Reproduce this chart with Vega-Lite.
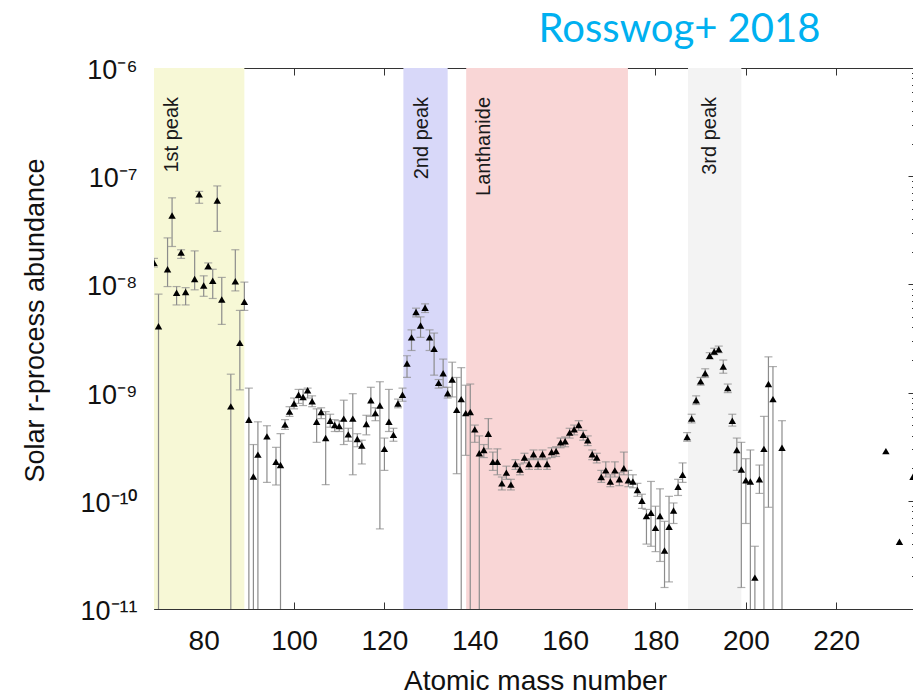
{
  "$schema": "https://vega.github.io/schema/vega-lite/v6.json",
  "width": 761,
  "height": 541,
  "autosize": {"type": "none"},
  "padding": {"left": 154, "top": 68, "right": 0, "bottom": 100},
  "config": {
    "view": {"stroke": "#333333", "strokeWidth": 1},
    "font": "Liberation Sans"
  },
  "datasets": {
    "bands": [
      {"region": "1st peak", "start": 69, "end": 89},
      {"region": "2nd peak", "start": 124.2, "end": 134},
      {"region": "Lanthanide", "start": 138.1, "end": 173.9},
      {"region": "3rd peak", "start": 187.2, "end": 199}
    ],
    "bandLabels": [
      {"label": "1st peak", "A": 74.3, "y": 5.4e-7},
      {"label": "2nd peak", "A": 129.6, "y": 5.4e-7},
      {"label": "Lanthanide", "A": 143.4, "y": 5.4e-7},
      {"label": "3rd peak", "A": 193.5, "y": 5.4e-7}
    ],
    "abund": [
      {"A": 69, "v": 1.58e-8, "lo": 1.45e-8, "hi": 1.74e-8},
      {"A": 70, "v": 4.11e-9, "lo": 1e-12, "hi": 8.13e-9},
      {"A": 72, "v": 1.38e-8, "lo": 9.55e-9, "hi": 2.69e-8},
      {"A": 73, "v": 4.33e-8, "lo": 2.24e-8, "hi": 6.31e-8},
      {"A": 74, "v": 8.38e-9, "lo": 6.46e-9, "hi": 9.55e-9},
      {"A": 75, "v": 1.97e-8, "lo": 1.74e-8, "hi": 2.09e-8},
      {"A": 76, "v": 8.51e-9, "lo": 6.46e-9, "hi": 9.33e-9},
      {"A": 78, "v": 1.12e-8, "lo": 8.91e-9, "hi": 2.04e-8},
      {"A": 79, "v": 6.81e-8, "lo": 5.62e-8, "hi": 7.24e-8},
      {"A": 80, "v": 9.77e-9, "lo": 7.76e-9, "hi": 1.2e-8},
      {"A": 81, "v": 1.48e-8, "lo": 1.38e-8, "hi": 1.58e-8},
      {"A": 82, "v": 1.08e-8, "lo": 7.41e-9, "hi": 1.38e-8},
      {"A": 83, "v": 5.96e-8, "lo": 3.09e-8, "hi": 8.13e-8},
      {"A": 84, "v": 7.24e-9, "lo": 4.27e-9, "hi": 1.16e-8},
      {"A": 86, "v": 7.46e-10, "lo": 1e-12, "hi": 1.48e-9},
      {"A": 87, "v": 1.07e-8, "lo": 8.71e-9, "hi": 2.09e-8},
      {"A": 88, "v": 2.88e-9, "lo": 1.06e-9, "hi": 5.75e-9},
      {"A": 89, "v": 6.92e-9, "lo": 5.75e-9, "hi": 1.05e-8},
      {"A": 90, "v": 5.62e-10, "lo": 1e-12, "hi": 1.1e-9},
      {"A": 91, "v": 1.68e-10, "lo": 1e-12, "hi": 3.31e-10},
      {"A": 92, "v": 2.67e-10, "lo": 1e-12, "hi": 5.37e-10},
      {"A": 94, "v": 3.94e-10, "lo": 1.48e-10, "hi": 4.94e-10},
      {"A": 96, "v": 2.29e-10, "lo": 1.4e-10, "hi": 3.12e-10},
      {"A": 97, "v": 2.14e-10, "lo": 1e-12, "hi": 4.17e-10},
      {"A": 98, "v": 5.06e-10, "lo": 4.57e-10, "hi": 5.62e-10},
      {"A": 99, "v": 6.67e-10, "lo": 6.03e-10, "hi": 7.41e-10},
      {"A": 100, "v": 7.94e-10, "lo": 7.08e-10, "hi": 8.91e-10},
      {"A": 101, "v": 9.55e-10, "lo": 7.94e-10, "hi": 1.07e-9},
      {"A": 102, "v": 9.12e-10, "lo": 7.59e-10, "hi": 1.07e-9},
      {"A": 103, "v": 1.05e-9, "lo": 8.91e-10, "hi": 1.1e-9},
      {"A": 104, "v": 8.32e-10, "lo": 7.41e-10, "hi": 9.33e-10},
      {"A": 105, "v": 5.37e-10, "lo": 3.47e-10, "hi": 7.08e-10},
      {"A": 106, "v": 6.61e-10, "lo": 5.75e-10, "hi": 7.24e-10},
      {"A": 107, "v": 3.8e-10, "lo": 1.41e-10, "hi": 6.67e-10},
      {"A": 108, "v": 5.5e-10, "lo": 4.79e-10, "hi": 6.31e-10},
      {"A": 109, "v": 5.01e-10, "lo": 4.37e-10, "hi": 5.62e-10},
      {"A": 110, "v": 4.9e-10, "lo": 4.37e-10, "hi": 5.5e-10},
      {"A": 111, "v": 5.75e-10, "lo": 3.31e-10, "hi": 8.51e-10},
      {"A": 112, "v": 4.11e-10, "lo": 3.55e-10, "hi": 4.68e-10},
      {"A": 113, "v": 5.75e-10, "lo": 1.74e-10, "hi": 9.77e-10},
      {"A": 114, "v": 3.72e-10, "lo": 3.16e-10, "hi": 4.17e-10},
      {"A": 115, "v": 3.24e-10, "lo": 2.19e-10, "hi": 3.63e-10},
      {"A": 116, "v": 5.13e-10, "lo": 4.07e-10, "hi": 6.17e-10},
      {"A": 117, "v": 8.51e-10, "lo": 6.03e-10, "hi": 1.12e-9},
      {"A": 118, "v": 6.46e-10, "lo": 5.5e-10, "hi": 7.24e-10},
      {"A": 119, "v": 7.59e-10, "lo": 5.5e-11, "hi": 1.26e-9},
      {"A": 120, "v": 3.02e-10, "lo": 1.91e-10, "hi": 3.8e-10},
      {"A": 121, "v": 5.37e-10, "lo": 4.37e-10, "hi": 1.07e-9},
      {"A": 122, "v": 4.07e-10, "lo": 3.55e-10, "hi": 4.68e-10},
      {"A": 123, "v": 7.94e-10, "lo": 7.24e-10, "hi": 8.71e-10},
      {"A": 124, "v": 9.55e-10, "lo": 8.32e-10, "hi": 1.1e-9},
      {"A": 125, "v": 1.86e-9, "lo": 1.38e-9, "hi": 2.19e-9},
      {"A": 126, "v": 3.24e-9, "lo": 2.45e-9, "hi": 3.8e-9},
      {"A": 127, "v": 5.55e-9, "lo": 5.01e-9, "hi": 6.03e-9},
      {"A": 128, "v": 4.17e-9, "lo": 3.24e-9, "hi": 5.01e-9},
      {"A": 129, "v": 6.08e-9, "lo": 5.5e-9, "hi": 6.61e-9},
      {"A": 130, "v": 3.24e-9, "lo": 2.45e-9, "hi": 3.8e-9},
      {"A": 131, "v": 2.54e-9, "lo": 1.45e-9, "hi": 3.55e-9},
      {"A": 132, "v": 1.23e-9, "lo": 1.1e-9, "hi": 1.32e-9},
      {"A": 133, "v": 1.51e-9, "lo": 1.12e-9, "hi": 2.04e-9},
      {"A": 134, "v": 9.86e-10, "lo": 8.91e-10, "hi": 1.12e-9},
      {"A": 135, "v": 1.32e-9, "lo": 9.12e-10, "hi": 1.91e-9},
      {"A": 136, "v": 6.92e-10, "lo": 1.78e-10, "hi": 1.38e-9},
      {"A": 137, "v": 8.71e-10, "lo": 1e-12, "hi": 1.7e-9},
      {"A": 138, "v": 6.46e-10, "lo": 2.63e-10, "hi": 1.17e-9},
      {"A": 139, "v": 6.61e-10, "lo": 1e-12, "hi": 1.2e-9},
      {"A": 140, "v": 4.57e-10, "lo": 3.47e-10, "hi": 5.01e-10},
      {"A": 141, "v": 2.75e-10, "lo": 1e-12, "hi": 3.98e-10},
      {"A": 142, "v": 2.95e-10, "lo": 2.51e-10, "hi": 3.31e-10},
      {"A": 143, "v": 4.17e-10, "lo": 3.02e-10, "hi": 5.75e-10},
      {"A": 144, "v": 2.29e-10, "lo": 1.91e-10, "hi": 2.82e-10},
      {"A": 145, "v": 2.29e-10, "lo": 1.74e-10, "hi": 3.02e-10},
      {"A": 146, "v": 1.45e-10, "lo": 1.26e-10, "hi": 1.66e-10},
      {"A": 147, "v": 1.82e-10, "lo": 1.58e-10, "hi": 2.09e-10},
      {"A": 148, "v": 1.41e-10, "lo": 1.26e-10, "hi": 1.58e-10},
      {"A": 149, "v": 2.19e-10, "lo": 1.95e-10, "hi": 2.4e-10},
      {"A": 150, "v": 1.95e-10, "lo": 1.74e-10, "hi": 2.19e-10},
      {"A": 151, "v": 2.51e-10, "lo": 2.24e-10, "hi": 2.75e-10},
      {"A": 152, "v": 2.19e-10, "lo": 1.95e-10, "hi": 2.45e-10},
      {"A": 153, "v": 2.69e-10, "lo": 2.4e-10, "hi": 2.95e-10},
      {"A": 154, "v": 2.19e-10, "lo": 1.95e-10, "hi": 2.45e-10},
      {"A": 155, "v": 2.69e-10, "lo": 2.4e-10, "hi": 2.95e-10},
      {"A": 156, "v": 2.19e-10, "lo": 1.95e-10, "hi": 2.45e-10},
      {"A": 157, "v": 2.82e-10, "lo": 2.51e-10, "hi": 3.09e-10},
      {"A": 158, "v": 2.88e-10, "lo": 2.57e-10, "hi": 3.16e-10},
      {"A": 159, "v": 3.47e-10, "lo": 3.09e-10, "hi": 3.8e-10},
      {"A": 160, "v": 3.55e-10, "lo": 3.16e-10, "hi": 3.89e-10},
      {"A": 161, "v": 4.27e-10, "lo": 3.8e-10, "hi": 4.68e-10},
      {"A": 162, "v": 4.57e-10, "lo": 4.07e-10, "hi": 5.01e-10},
      {"A": 163, "v": 5.01e-10, "lo": 4.47e-10, "hi": 5.5e-10},
      {"A": 164, "v": 4.07e-10, "lo": 3.63e-10, "hi": 4.47e-10},
      {"A": 165, "v": 3.63e-10, "lo": 3.24e-10, "hi": 3.98e-10},
      {"A": 166, "v": 2.69e-10, "lo": 2.4e-10, "hi": 2.95e-10},
      {"A": 167, "v": 2.51e-10, "lo": 2.24e-10, "hi": 2.75e-10},
      {"A": 168, "v": 1.66e-10, "lo": 1.48e-10, "hi": 1.91e-10},
      {"A": 169, "v": 1.91e-10, "lo": 1.66e-10, "hi": 2.29e-10},
      {"A": 170, "v": 1.51e-10, "lo": 1.35e-10, "hi": 1.74e-10},
      {"A": 171, "v": 1.91e-10, "lo": 1.66e-10, "hi": 2.29e-10},
      {"A": 172, "v": 1.58e-10, "lo": 1.38e-10, "hi": 1.82e-10},
      {"A": 173, "v": 2.0e-10, "lo": 1.74e-10, "hi": 2.82e-10},
      {"A": 174, "v": 1.55e-10, "lo": 1.35e-10, "hi": 1.91e-10},
      {"A": 175, "v": 1.51e-10, "lo": 1.32e-10, "hi": 1.74e-10},
      {"A": 176, "v": 1.26e-10, "lo": 1.1e-10, "hi": 1.45e-10},
      {"A": 177, "v": 1.0e-10, "lo": 8.51e-11, "hi": 1.15e-10},
      {"A": 178, "v": 7.24e-11, "lo": 3.98e-11, "hi": 8.32e-11},
      {"A": 179, "v": 7.76e-11, "lo": 3.8e-11, "hi": 1.51e-10},
      {"A": 180, "v": 5.62e-11, "lo": 3.39e-11, "hi": 8.91e-11},
      {"A": 181, "v": 7.24e-11, "lo": 2.75e-11, "hi": 1.29e-10},
      {"A": 182, "v": 3.47e-11, "lo": 1.58e-11, "hi": 6.46e-11},
      {"A": 183, "v": 5.75e-11, "lo": 1.78e-11, "hi": 1.1e-10},
      {"A": 184, "v": 8.13e-11, "lo": 6.17e-11, "hi": 9.55e-11},
      {"A": 185, "v": 1.35e-10, "lo": 1.12e-10, "hi": 1.58e-10},
      {"A": 186, "v": 1.74e-10, "lo": 1.48e-10, "hi": 2.24e-10},
      {"A": 187, "v": 3.89e-10, "lo": 3.55e-10, "hi": 4.27e-10},
      {"A": 188, "v": 5.75e-10, "lo": 5.25e-10, "hi": 6.31e-10},
      {"A": 189, "v": 8.51e-10, "lo": 7.76e-10, "hi": 9.33e-10},
      {"A": 190, "v": 1.27e-9, "lo": 1.17e-9, "hi": 1.38e-9},
      {"A": 191, "v": 1.51e-9, "lo": 1.38e-9, "hi": 1.66e-9},
      {"A": 192, "v": 2.19e-9, "lo": 2.04e-9, "hi": 2.34e-9},
      {"A": 193, "v": 2.4e-9, "lo": 2.24e-9, "hi": 2.57e-9},
      {"A": 194, "v": 2.51e-9, "lo": 2.34e-9, "hi": 2.69e-9},
      {"A": 195, "v": 1.74e-9, "lo": 1.51e-9, "hi": 2.0e-9},
      {"A": 196, "v": 1.1e-9, "lo": 1.0e-9, "hi": 1.2e-9},
      {"A": 197, "v": 5.5e-10, "lo": 4.9e-10, "hi": 6.31e-10},
      {"A": 198, "v": 2.95e-10, "lo": 1.91e-10, "hi": 3.8e-10},
      {"A": 199, "v": 1.95e-10, "lo": 1.58e-11, "hi": 3.47e-10},
      {"A": 200, "v": 1.55e-10, "lo": 6.17e-11, "hi": 2.45e-10},
      {"A": 201, "v": 1.51e-10, "lo": 1e-12, "hi": 2.95e-10},
      {"A": 202, "v": 1.95e-11, "lo": 1e-12, "hi": 3.8e-11},
      {"A": 203, "v": 1.58e-10, "lo": 1.17e-10, "hi": 2.14e-10},
      {"A": 204, "v": 3.02e-10, "lo": 1e-12, "hi": 6.03e-10},
      {"A": 205, "v": 1.2e-9, "lo": 8.71e-11, "hi": 2.14e-9},
      {"A": 206, "v": 8.71e-10, "lo": 1e-12, "hi": 1.74e-9},
      {"A": 208, "v": 3.09e-10, "lo": 1e-12, "hi": 5.5e-10},
      {"A": 231, "v": 2.88e-10, "lo": null, "hi": null},
      {"A": 234, "v": 4.19e-11, "lo": null, "hi": null},
      {"A": 237, "v": 1.67e-10, "lo": null, "hi": null}
    ]
  },
  "layer": [
    {
      "layer": [
        {
          "data": {"name": "bands"},
          "mark": {"type": "rect", "clip": true},
          "encoding": {
            "x": {"field": "start", "type": "quantitative", "title": "Atomic mass number", "scale": {"domain": [69, 237.44], "nice": false, "zero": false}},
            "x2": {"field": "end"},
            "color": {
              "field": "region",
              "type": "nominal",
              "legend": null,
              "scale": {
                "domain": ["1st peak", "2nd peak", "Lanthanide", "3rd peak"],
                "range": ["#f7f8d6", "#d8d8f9", "#f9d6d6", "#f3f3f3"]
              }
            }
          }
        },
        {
          "data": {"name": "abund"},
          "transform": [{"filter": "isValid(datum.lo)"}],
          "mark": {"type": "rule", "color": "#8c8c8c", "strokeWidth": 1.2, "clip": true},
          "encoding": {
            "x": {"field": "A", "type": "quantitative", "title": "Atomic mass number", "scale": {"domain": [69, 237.44], "nice": false, "zero": false}},
            "y": {"field": "lo", "type": "quantitative", "title": "Solar r-process abundance", "scale": {"type": "log", "domain": [1e-11, 1e-6], "nice": false}},
            "y2": {"field": "hi"}
          }
        },
        {
          "data": {"name": "abund"},
          "transform": [{"filter": "isValid(datum.lo)"}],
          "mark": {"type": "tick", "orient": "horizontal", "size": 8, "thickness": 1.2, "color": "#8c8c8c", "clip": true},
          "encoding": {
            "x": {"field": "A", "type": "quantitative", "title": "Atomic mass number"},
            "y": {"field": "lo", "type": "quantitative", "title": "Solar r-process abundance"}
          }
        },
        {
          "data": {"name": "abund"},
          "transform": [{"filter": "isValid(datum.hi)"}],
          "mark": {"type": "tick", "orient": "horizontal", "size": 8, "thickness": 1.2, "color": "#8c8c8c", "clip": true},
          "encoding": {
            "x": {"field": "A", "type": "quantitative", "title": "Atomic mass number"},
            "y": {"field": "hi", "type": "quantitative", "title": "Solar r-process abundance"}
          }
        },
        {
          "data": {"name": "abund"},
          "mark": {"type": "point", "shape": "triangle-up", "filled": true, "color": "#000000", "opacity": 1, "size": 55, "clip": true},
          "encoding": {
            "x": {
              "field": "A",
              "type": "quantitative",
              "title": "Atomic mass number",
              "axis": {
                "orient": "bottom",
                "zindex": 0,
                "values": [80, 100, 120, 140, 160, 180, 200, 220],
                "domain": false,
                "grid": false,
                "tickSize": -7,
                "tickColor": "#333333",
                "tickWidth": 1,
                "labelFont": "Liberation Sans",
                "labelFontSize": 28,
                "labelColor": "#111111",
                "labelBaseline": "alphabetic",
                "labelPadding": 47.3,
                "labelFlush": false,
                "labelOverlap": false,
                "titleFont": "Liberation Sans",
                "titleFontSize": 28,
                "titleFontWeight": "normal",
                "titleColor": "#111111",
                "titleX": 381,
                "titleY": 80,
                "titleBaseline": "alphabetic",
                "titleAlign": "center"
              }
            },
            "y": {
              "field": "v",
              "type": "quantitative",
              "title": "Solar r-process abundance",
              "axis": {
                "orient": "left",
                "zindex": 0,
                "values": [1e-11, 2e-11, 3e-11, 4e-11, 5e-11, 6e-11, 7e-11, 8e-11, 9e-11, 1e-10, 2e-10, 3e-10, 4e-10, 5e-10, 6e-10, 7e-10, 8e-10, 9e-10, 1e-9, 2e-9, 3e-9, 4e-9, 5e-9, 6e-9, 7e-9, 8e-9, 9e-9, 1e-8, 2e-8, 3e-8, 4e-8, 5e-8, 6e-8, 7e-8, 8e-8, 9e-8, 1e-7, 2e-7, 3e-7, 4e-7, 5e-7, 6e-7, 7e-7, 8e-7, 9e-7, 1e-6],
                "domain": false,
                "grid": false,
                "tickSize": {"condition": {"test": "abs(log(datum.value)/LN10 - round(log(datum.value)/LN10)) < 0.001", "value": -7}, "value": -3.5},
                "tickColor": "#333333",
                "tickWidth": 1,
                "labelExpr": "abs(log(datum.value)/LN10 - round(log(datum.value)/LN10)) > 0.001 ? '' : '10' + (round(log(datum.value)/LN10) == -6 ? '⁻⁶' : round(log(datum.value)/LN10) == -7 ? '⁻⁷' : round(log(datum.value)/LN10) == -8 ? '⁻⁸' : round(log(datum.value)/LN10) == -9 ? '⁻⁹' : round(log(datum.value)/LN10) == -10 ? '⁻¹⁰' : '⁻¹¹')",
                "labelFont": "Liberation Sans",
                "labelFontSize": 27,
                "labelColor": "#111111",
                "labelBaseline": "alphabetic",
                "labelOffset": 10.5,
                "labelPadding": 24,
                "labelFlush": false,
                "labelOverlap": false,
                "titleFont": "Liberation Sans",
                "titleFontSize": 27,
                "titleFontWeight": "normal",
                "titleColor": "#111111",
                "titleX": -110.5,
                "titleY": 252,
                "titleAngle": 270,
                "titleBaseline": "alphabetic",
                "titleAlign": "center"
              }
            }
          }
        }
      ]
    },
    {
      "data": {"name": "bandLabels"},
      "mark": {"type": "text", "angle": 270, "align": "right", "baseline": "alphabetic", "font": "Liberation Sans", "fontSize": 20, "color": "#1a1a1a"},
      "encoding": {
        "text": {"field": "label"},
        "x": {
          "field": "A",
          "type": "quantitative",
          "scale": {"domain": [69, 237.44], "nice": false, "zero": false},
          "axis": {
            "orient": "top",
            "zindex": 0,
            "values": [80, 100, 120, 140, 160, 180, 200, 220],
            "labels": false,
            "domain": false,
            "grid": false,
            "tickSize": -7,
            "tickColor": "#333333",
            "tickWidth": 1,
            "title": "Rosswog+ 2018",
            "titleFont": "Lato",
            "titleFontSize": 40,
            "titleFontWeight": "normal",
            "titleColor": "#00b0f0",
            "titleX": 525,
            "titleY": -27,
            "titleAngle": 0,
            "titleAlign": "center",
            "titleBaseline": "alphabetic"
          }
        },
        "y": {
          "field": "y",
          "type": "quantitative",
          "scale": {"type": "log", "domain": [1e-11, 1e-6], "nice": false},
          "axis": {
            "orient": "right",
            "zindex": 0,
            "values": [1e-11, 2e-11, 3e-11, 4e-11, 5e-11, 6e-11, 7e-11, 8e-11, 9e-11, 1e-10, 2e-10, 3e-10, 4e-10, 5e-10, 6e-10, 7e-10, 8e-10, 9e-10, 1e-9, 2e-9, 3e-9, 4e-9, 5e-9, 6e-9, 7e-9, 8e-9, 9e-9, 1e-8, 2e-8, 3e-8, 4e-8, 5e-8, 6e-8, 7e-8, 8e-8, 9e-8, 1e-7, 2e-7, 3e-7, 4e-7, 5e-7, 6e-7, 7e-7, 8e-7, 9e-7, 1e-6],
            "labels": false,
            "domain": false,
            "grid": false,
            "tickSize": {"condition": {"test": "abs(log(datum.value)/LN10 - round(log(datum.value)/LN10)) < 0.001", "value": -7}, "value": -3.5},
            "tickColor": "#333333",
            "tickWidth": 1,
            "title": null
          }
        }
      }
    }
  ],
  "resolve": {"scale": {"x": "independent", "y": "independent"}}
}
